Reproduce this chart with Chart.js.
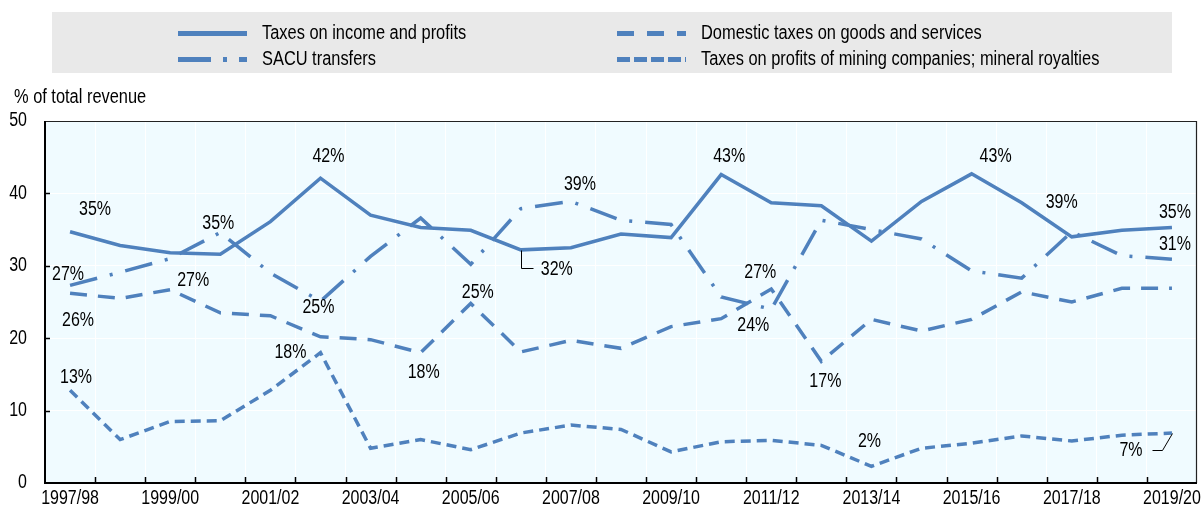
<!DOCTYPE html>
<html>
<head>
<meta charset="utf-8">
<title>Government revenue by source</title>
<script src="https://cdn.jsdelivr.net/npm/chart.js@4.4.1/dist/chart.umd.min.js"></script>
<style>
  html, body { margin: 0; padding: 0; background: #fff; }
  #chart { display: block; }
</style>
</head>
<body>
<canvas id="chart" width="1201" height="508"></canvas>
<script>
'use strict';

// ── DATA ──────────────────────────────────────────────────────────────────
// Values in % of total revenue.

var years = [
  '1997/98', '1998/99', '1999/00', '2000/01', '2001/02', '2002/03', '2003/04', '2004/05',
  '2005/06', '2006/07', '2007/08', '2008/09', '2009/10', '2010/11', '2011/12', '2012/13',
  '2013/14', '2014/15', '2015/16', '2016/17', '2017/18', '2018/19', '2019/20'
];

var incomeTax = [
  34.7, 32.8, 31.8, 31.6, 36.1, 42.1, 37.0, 35.3, 34.9, 32.2, 32.5, 34.4,
  33.9, 42.6, 38.7, 38.3, 33.4, 38.9, 42.7, 38.7, 34.0, 34.9, 35.3
];

var sacuTransfers = [
  27.3, 29.1, 31.0, 34.6, 29.0, 25.1, 31.3, 36.6, 30.2, 37.9, 38.9, 36.3,
  35.7, 25.7, 24.0, 36.3, 35.0, 33.7, 29.3, 28.3, 34.7, 31.4, 30.9
];

var domesticTax = [
  26.2, 25.5, 26.7, 23.5, 23.1, 20.2, 19.8, 18.0, 24.8, 18.1, 19.7, 18.6,
  21.6, 22.7, 26.8, 16.8, 22.6, 21.0, 22.6, 26.4, 25.0, 26.9, 26.9
];

var miningTax = [
  12.8, 6.0, 8.5, 8.6, 12.8, 18.0, 4.8, 6.0, 4.6, 6.9, 8.0, 7.4,
  4.3, 5.7, 5.9, 5.2, 2.3, 4.8, 5.5, 6.5, 5.8, 6.6, 6.9
];

var yTicks = [0, 10, 20, 30, 40, 50];

// Which points carry a value label, per series
var incomeLabelAt   = [0, 5, 9, 13, 18, 19, 22];
var sacuLabelAt     = [0, 3, 5, 10, 14, 22];
var domesticLabelAt = [0, 2, 7, 8, 14, 15];
var miningLabelAt   = [0, 5, 16, 22];

// ── STYLE ─────────────────────────────────────────────────────────────────

var BLUE    = '#4f81bd';
var FONT    = "'Liberation Sans', Arial, sans-serif";
var NARROW  = 0.82;   // horizontal squeeze, stands in for Arial Narrow
var PLOT_BG = '#f0fbff';

// Label placement relative to the point (px); third item = leader line path
var labelStyle = {
  income: {
    0: [25, -22], 5: [8, -22], 9: [36, 20, [[0, 0], [0, 18], [12, 18]]],
    13: [8, -18], 18: [24, -17], 19: [40, 0], 22: [3, -15]
  },
  sacu: {
    0: [-2, -11], 3: [-2, -9], 5: [-2, 6], 10: [9, -17], 14: [-18, 16], 22: [3, -15]
  },
  domestic: {
    0: [8, 27], 2: [23, -9], 7: [3, 20], 8: [7, -11], 14: [-11, -16], 15: [4, 20]
  },
  mining: {
    0: [6, -13], 5: [-30, 0], 16: [-2, -25], 22: [-41, 18, [[0, 0], [-10, 17], [-20, 17]]]
  }
};

function narrowText(ctx, text, x, y, size, align) {
  ctx.save();
  ctx.font = size + 'px ' + FONT;
  ctx.fillStyle = '#000';
  ctx.textAlign = align;
  ctx.textBaseline = 'middle';
  ctx.translate(x, y);
  ctx.scale(NARROW, 1);
  ctx.fillText(text, 0, 0);
  ctx.restore();
}

// ── PLUGINS ───────────────────────────────────────────────────────────────

var plotFrame = {
  id: 'plotFrame',
  beforeDraw: function (chart) {
    var a = chart.chartArea, ctx = chart.ctx;
    ctx.save();
    ctx.fillStyle = PLOT_BG;
    ctx.fillRect(a.left, a.top, a.right - a.left, a.bottom - a.top);
    ctx.restore();
  },
  afterDatasetsDraw: function (chart) {
    var a = chart.chartArea, ctx = chart.ctx;
    var x = chart.scales.x, y = chart.scales.y;
    ctx.save();
    ctx.strokeStyle = '#000';

    // inward tick marks
    ctx.lineWidth = 1.5;
    ctx.beginPath();
    for (var i = 1; i < years.length; i++) {
      var px = Math.round((x.getPixelForValue(i - 1) + x.getPixelForValue(i)) / 2) + 0.5;
      ctx.moveTo(px, a.bottom);
      ctx.lineTo(px, a.bottom - 6);
    }
    yTicks.forEach(function (t) {
      if (t === 0 || t === 50) return;
      var py = Math.round(y.getPixelForValue(t)) + 0.5;
      ctx.moveTo(a.left, py);
      ctx.lineTo(a.left + 5, py);
    });
    ctx.stroke();

    // frame: thin top/right, heavier axes
    ctx.lineWidth = 1.2;
    ctx.strokeStyle = '#222';
    ctx.beginPath();
    ctx.moveTo(a.left, a.top + 0.5);
    ctx.lineTo(a.right - 0.5, a.top + 0.5);
    ctx.lineTo(a.right - 0.5, a.bottom);
    ctx.stroke();
    ctx.lineWidth = 2;
    ctx.strokeStyle = '#000';
    ctx.beginPath();
    ctx.moveTo(a.left, a.top);
    ctx.lineTo(a.left, a.bottom);
    ctx.lineTo(a.right, a.bottom);
    ctx.stroke();
    ctx.restore();

    // axis labels, condensed
    years.forEach(function (lbl, i) {
      if (i % 2 === 0) narrowText(ctx, lbl, x.getPixelForValue(i), a.bottom + 16, 19.5, 'center');
    });
    yTicks.forEach(function (t) {
      narrowText(ctx, String(t), a.left - 18, y.getPixelForValue(t), 19.5, 'right');
    });
  }
};

var pointLabels = {
  id: 'pointLabels',
  afterDatasetsDraw: function (chart) {
    var ctx = chart.ctx;
    chart.data.datasets.forEach(function (ds, di) {
      var meta = chart.getDatasetMeta(di);
      var style = labelStyle[ds.key];
      ds.labelAt.forEach(function (idx) {
        var pt = meta.data[idx];
        var s = style[idx];
        narrowText(ctx, Math.round(ds.data[idx]) + '%', pt.x + s[0], pt.y + s[1], 19.5, 'center');
        if (s[2]) {
          ctx.save();
          ctx.strokeStyle = '#000';
          ctx.lineWidth = 1;
          ctx.beginPath();
          s[2].forEach(function (p, k) {
            var lx = Math.round(pt.x + p[0]) + 0.5, ly = Math.round(pt.y + p[1]) + 0.5;
            if (k === 0) ctx.moveTo(lx, ly); else ctx.lineTo(lx, ly);
          });
          ctx.stroke();
          ctx.restore();
        }
      });
    });
  }
};

// Boxed two-column legend plus the y-axis caption
var boxLegend = {
  id: 'boxLegend',
  afterDraw: function (chart) {
    var ctx = chart.ctx;
    var slots = [[178, 33], [178, 59], [617, 33], [617, 59]];
    ctx.save();
    ctx.fillStyle = '#e9e9e9';
    ctx.fillRect(52, 12, 1120, 61);

    chart.data.datasets.forEach(function (ds, k) {
      var p = slots[k];
      ctx.strokeStyle = ds.borderColor;
      ctx.lineWidth = 5;
      ctx.setLineDash(ds.legendDash);
      ctx.beginPath();
      ctx.moveTo(p[0], p[1] + 0.5);
      ctx.lineTo(p[0] + 69, p[1] + 0.5);
      ctx.stroke();
      ctx.setLineDash([]);
      narrowText(ctx, ds.label, p[0] + 84, p[1], 20, 'left');
    });
    ctx.restore();

    narrowText(ctx, '% of total revenue', 14, 97, 20, 'left');
  }
};

// ── CHART ─────────────────────────────────────────────────────────────────

function series(label, key, data, labelAt, dash, legendDash) {
  return {
    label:       label,
    key:         key,
    data:        data,
    labelAt:     labelAt,
    borderColor: BLUE,
    borderWidth: 3.5,
    borderDash:  dash,
    legendDash:  legendDash,
    fill:        false,
    tension:     0,
    pointRadius: 0
  };
}

new Chart(document.getElementById('chart'), {
  type: 'line',
  data: {
    labels: years,
    datasets: [
      series('Taxes on income and profits', 'income', incomeTax, incomeLabelAt, [], []),
      series('SACU transfers', 'sacu', sacuTransfers, sacuLabelAt, [28, 13, 3, 13], [33, 12, 4, 12]),
      series('Domestic taxes on goods and services', 'domestic', domesticTax, domesticLabelAt, [17, 11], [17, 13]),
      series('Taxes on profits of mining companies; mineral royalties', 'mining', miningTax, miningLabelAt, [10, 6], [13, 4])
    ]
  },
  options: {
    responsive:       false,
    animation:        false,
    devicePixelRatio: 1,
    layout: { padding: { top: 121, right: 4, bottom: 0, left: 0 } },
    plugins: {
      legend:  { display: false },
      tooltip: { enabled: false }
    },
    scales: {
      x: {
        type:   'category',
        offset: true,
        grid:   { offset: true, color: '#ffffff', lineWidth: 1, drawTicks: false },
        border: { display: false },
        ticks:  { display: false },
        afterFit: function (scale) { scale.height = 25; }
      },
      y: {
        min: 0,
        max: 50,
        grid:   { color: '#ffffff', lineWidth: 1, drawTicks: false },
        border: { display: false },
        ticks:  { display: false, stepSize: 10 },
        afterBuildTicks: function (scale) {
          scale.ticks = yTicks.map(function (v) { return { value: v }; });
        },
        afterFit: function (scale) { scale.width = 45; }
      }
    }
  },
  plugins: [plotFrame, pointLabels, boxLegend]
});
</script>
</body>
</html>
